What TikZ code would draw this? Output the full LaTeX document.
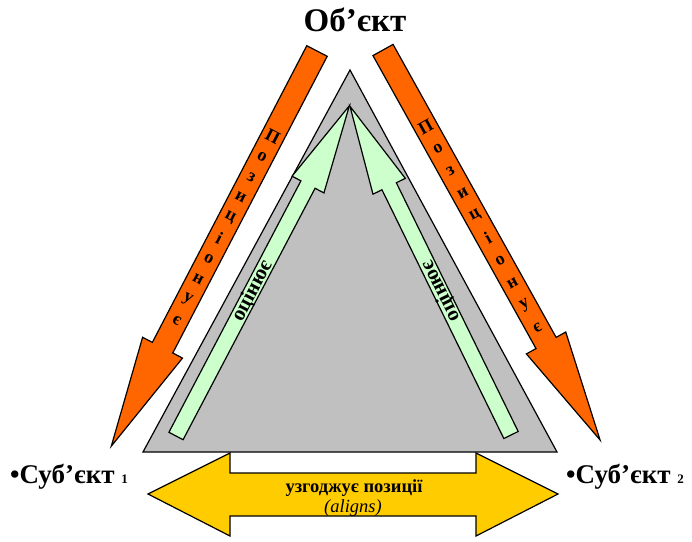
\documentclass[tikz,border=0pt]{standalone}
\usepackage{fontspec}
\setmainfont{Liberation Serif}
\definecolor{trigray}{HTML}{C0C0C0}
\definecolor{lightgrn}{HTML}{CCFFCC}
\definecolor{orng}{HTML}{FF6600}
\definecolor{yllw}{HTML}{FFCC00}
\begin{document}
\begin{tikzpicture}[x=1pt, y=-1pt,
		shape line/.style={draw=black, line width=1.2pt, line join=miter},
		letter/.style={font=\bfseries\fontsize{18}{18}\selectfont, inner sep=0pt},
		greenlabel/.style={font=\bfseries\fontsize{21}{21}\selectfont, inner sep=0pt},
		subject/.style={font=\bfseries\fontsize{27}{30}\selectfont, inner sep=0pt, anchor=base west}]
		\useasboundingbox (0,0) rectangle (692,541);
		\draw[shape line, fill=trigray] (350,70) -- (557,452) -- (143,452) -- cycle;
		\begin{scope}[shift={(176,436)}, rotate=62.3]
			\draw[shape line, fill=lightgrn] (0,8) -- (284,8) -- (284,18) -- (373,0) -- (284,-18) -- (284,-8) -- (0,-8) -- cycle;
			\node[greenlabel, rotate=62.3] (rateL) at (164,0) {оцінює};
		\end{scope}
		\begin{scope}[shift={(511,435)}, rotate=116.1]
			\draw[shape line, fill=lightgrn] (0,8) -- (277,8) -- (277,18) -- (366,0) -- (277,-18) -- (277,-8) -- (0,-8) -- cycle;
			\node[greenlabel, rotate=116.1] (rateR) at (160,0) {оцінює};
		\end{scope}
		\begin{scope}[shift={(317,51)}, rotate=-117.5]
			\draw[shape line, fill=orng] (0,11.5) -- (334.5,11.5) -- (334.5,22.5) -- (445.5,0) -- (334.5,-22.5) -- (334.5,-11.5) -- (0,-11.5) -- cycle;
			\foreach \ch [count=\i] in {П,о,з,и,ц,і,о,н,у,є}
				\node[letter, rotate=-27.5] (posL\i) at ({96+23.1*(\i-1)},0) {\ch};
		\end{scope}
		\begin{scope}[shift={(383,50)}, rotate=-60.9]
			\draw[shape line, fill=orng] (0,11.5) -- (335.3,11.5) -- (335.3,22.5) -- (446.3,0) -- (335.3,-22.5) -- (335.3,-11.5) -- (0,-11.5) -- cycle;
			\foreach \ch [count=\i] in {П,о,з,и,ц,і,о,н,у,є}
				\node[letter, rotate=29.1] (posR\i) at ({87.5+25.6*(\i-1)},0) {\ch};
		\end{scope}
		\draw[shape line, fill=yllw] (148,494) -- (230,453) -- (230,473) -- (476,473) -- (476,453) -- (558,494) -- (476,536) -- (476,516) -- (230,516) -- (230,536) -- cycle;
		\node[font=\bfseries\fontsize{33}{36}\selectfont, anchor=base] (obj) at (355,31) {Об’єкт};
		\node[subject] (subj1) at (10,483) {•Суб’єкт {\fontsize{13}{13}\selectfont 1}};
		\node[subject] (subj2) at (566,483) {•Суб’єкт {\fontsize{13}{13}\selectfont 2}};
		\node[font=\bfseries\fontsize{18.5}{18.5}\selectfont, anchor=base] (agree) at (354,492) {узгоджує позиції};
		\node[font=\itshape\fontsize{18.5}{18.5}\selectfont, anchor=base] (aligns) at (353,512) {(aligns)};
	\end{tikzpicture}
\end{document}
